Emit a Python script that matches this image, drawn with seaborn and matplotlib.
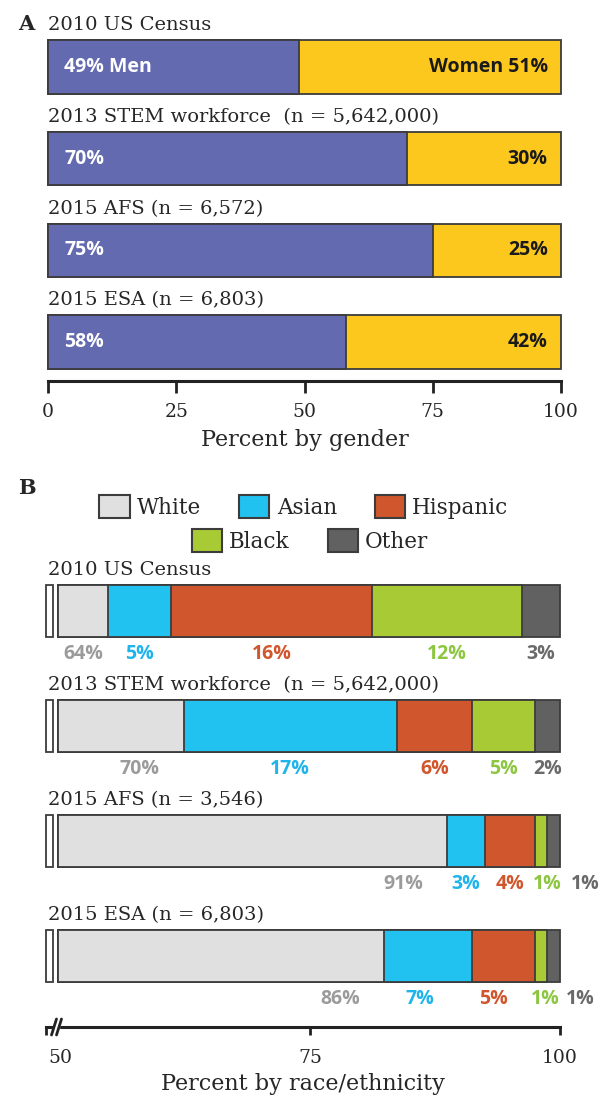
import numpy as np
import pandas as pd
import seaborn as sns
import matplotlib.pyplot as plt
from matplotlib.patches import Patch
from matplotlib.transforms import blended_transform_factory

# ---- data ----
surveys_gender = ['2010 US Census', '2013 STEM workforce  (n = 5,642,000)',
                  '2015 AFS (n = 6,572)', '2015 ESA (n = 6,803)']
men = [49, 70, 75, 58]
women = [51, 30, 25, 42]

surveys_race = ['2010 US Census', '2013 STEM workforce  (n = 5,642,000)',
                '2015 AFS (n = 3,546)', '2015 ESA (n = 6,803)']
races = ['White', 'Asian', 'Hispanic', 'Black', 'Other']
white = [64, 70, 91, 86]
asian = [5, 17, 3, 7]
hispanic = [16, 6, 4, 5]
black = [12, 5, 1, 1]
other = [3, 2, 1, 1]

# ---- styling ----
c_men, c_women = '#636ab0', '#fdc81e'
race_colors = ['#e0e0e0', '#21c2f0', '#d0572d', '#a8cb35', '#616161']
label_colors = ['#9b9b9b', '#1fb5ec', '#d0572d', '#8dc641', '#6a6a6a']
edge = '#3c3c3c'
W, H = 602, 1100


def rect(l, t, r, b):
    # pixel box -> figure fraction
    return [l / W, 1 - b / H, (r - l) / W, (b - t) / H]


sns.set_style('white')
plt.rcParams['font.family'] = ['DejaVu Serif']
fig = plt.figure(figsize=(6.02, 11.0), dpi=100)

#%% panel A: gender
axA = fig.add_axes(rect(48, 20, 561, 381))
dfA = pd.DataFrame({'survey': surveys_gender, 'men': men, 'women': women})
dfA['total'] = dfA['men'] + dfA['women']
for col, c in [('total', c_women), ('men', c_men)]:
    sns.barplot(data=dfA, x=col, y='survey', orient='h', color=c, saturation=1,
                width=0.58, edgecolor=edge, linewidth=1.3, errorbar=None, ax=axA)
for p in axA.patches:
    p.set_clip_on(False)
axA.set_xlim(0, 100)
axA.set_ylim(3.425, -0.5125)
axA.set_yticks([])
axA.set_ylabel('')
for s in ['left', 'right', 'top']:
    axA.spines[s].set_visible(False)
axA.spines['bottom'].set_linewidth(2.2)
axA.spines['bottom'].set_color('#222222')
axA.set_xticks([0, 25, 50, 75, 100])
axA.tick_params(axis='x', bottom=True, direction='out', length=8.5, width=2,
                color='#222222', pad=7, labelsize=13.5)
axA.set_xlabel('Percent by gender', fontsize=16, labelpad=6)

for i, s in enumerate(surveys_gender):
    axA.text(0, i - 0.455, s, ha='left', va='center', fontsize=14)
    m_txt = f'{men[i]}% Men' if i == 0 else f'{men[i]}%'
    w_txt = f'Women {women[i]}%' if i == 0 else f'{women[i]}%'
    axA.text(3.2, i, m_txt, ha='left', va='center', color='white',
             fontsize=14, fontweight='bold', family='Open Sans')
    axA.text(97.4, i, w_txt, ha='right', va='center', color='#1a1a1a',
             fontsize=14, fontweight='bold', family='Open Sans')

#%% panel B: race / ethnicity (axis broken at the left)
axB = fig.add_axes(rect(44, 560, 560, 1012))
vals = np.array([white, asian, hispanic, black, other]).T
cum = vals.cumsum(axis=1)
x_break = 60
x_left = x_break - 14 / 12.55
for k in reversed(range(len(races))):
    sns.barplot(x=cum[:, k], y=surveys_race, orient='h', color=race_colors[k],
                saturation=1, width=0.45, edgecolor=edge, linewidth=1.3,
                errorbar=None, ax=axB)
for p in axB.patches:
    x0 = p.get_x()
    if x0 < x_break:
        p.set_width(x0 + p.get_width() - x_break)
        p.set_x(x_break)
    p.set_clip_on(False)
# stub for the part of each bar hidden by the break
axB.barh(range(len(surveys_race)), 0.56, left=59.04, height=0.45, color='white',
         edgecolor=edge, linewidth=1.3, clip_on=False)
axB.set_xlim(x_left, 100)
axB.set_ylim(3.487, -0.4435)
axB.set_xticks([])
axB.set_yticks([])
axB.set_xlabel('')
axB.set_ylabel('')
for s in axB.spines.values():
    s.set_visible(False)

tr = blended_transform_factory(axB.transAxes, axB.transData)
nudge = {(2, 3): 0.5, (2, 4): 2.5, (3, 1): -0.7, (3, 2): -0.8, (3, 3): 0.3, (3, 4): 2.1}
for i, s in enumerate(surveys_race):
    axB.text(4 / 516, i - 0.357, s, transform=tr, ha='left', va='center', fontsize=14)
    starts = cum[i] - vals[i]
    for k in range(len(races)):
        if k == 0:
            x = max((x_break + cum[i, 0]) / 2, cum[i, 0] - 3.5)
        else:
            x = (starts[k] + cum[i, k]) / 2
        x += nudge.get((i, k), 0)
        axB.text(x, i + 0.37, f'{vals[i, k]}%', ha='center', va='center',
                 color=label_colors[k], fontsize=14, fontweight='bold',
                 family='Open Sans')

# scale for panel B
axS = fig.add_axes(rect(46, 1026, 560, 1027))
axS.set_facecolor('none')
axS.set_xlim(48.6, 100)
axS.set_yticks([])
for s in ['left', 'right', 'top']:
    axS.spines[s].set_visible(False)
axS.spines['bottom'].set_linewidth(2.2)
axS.spines['bottom'].set_color('#222222')
axS.set_xticks([50, 75, 100])
axS.set_xticks([48.6], minor=True)
axS.tick_params(axis='x', which='both', bottom=True, direction='out', length=5.5,
                width=2, color='#222222', pad=10, labelsize=13.5)
axS.xaxis.get_major_ticks()[0].tick1line.set_visible(False)
axS.set_xlabel('Percent by race/ethnicity', fontsize=16, labelpad=5)
trS = blended_transform_factory(axS.transData, fig.transFigure)
y0 = 1 - 1027 / H
axS.fill_between([49.4, 49.9], y0 - 3 / H, y0 + 3 / H, color='white',
                 transform=trS, clip_on=False, zorder=5)
for xs in [49.4, 49.9]:
    axS.plot([xs - 0.25, xs + 0.25], [y0 - 8 / H, y0 + 8 / H], color='#222222',
             lw=2, transform=trS, clip_on=False, zorder=6)

# legend
h1 = [Patch(facecolor=race_colors[k], edgecolor=edge, linewidth=1.5) for k in range(3)]
h2 = [Patch(facecolor=race_colors[k], edgecolor=edge, linewidth=1.5) for k in range(3, 5)]
leg_kw = dict(frameon=False, fontsize=15.5, handlelength=1.4, handleheight=1.3,
              handletextpad=0.35, columnspacing=1.75, borderpad=0, borderaxespad=0)
fig.legend(h1, races[:3], ncol=3, loc='center', bbox_to_anchor=(304 / W, 1 - 507 / H), **leg_kw)
fig.legend(h2, races[3:], ncol=2, loc='center', bbox_to_anchor=(310 / W, 1 - 541 / H), **leg_kw)

fig.text(18 / W, 1 - 24 / H, 'A', fontsize=15, fontweight='bold', ha='left', va='center')
fig.text(18 / W, 1 - 488 / H, 'B', fontsize=15, fontweight='bold', ha='left', va='center')

fig.savefig('out.png', dpi=100)
